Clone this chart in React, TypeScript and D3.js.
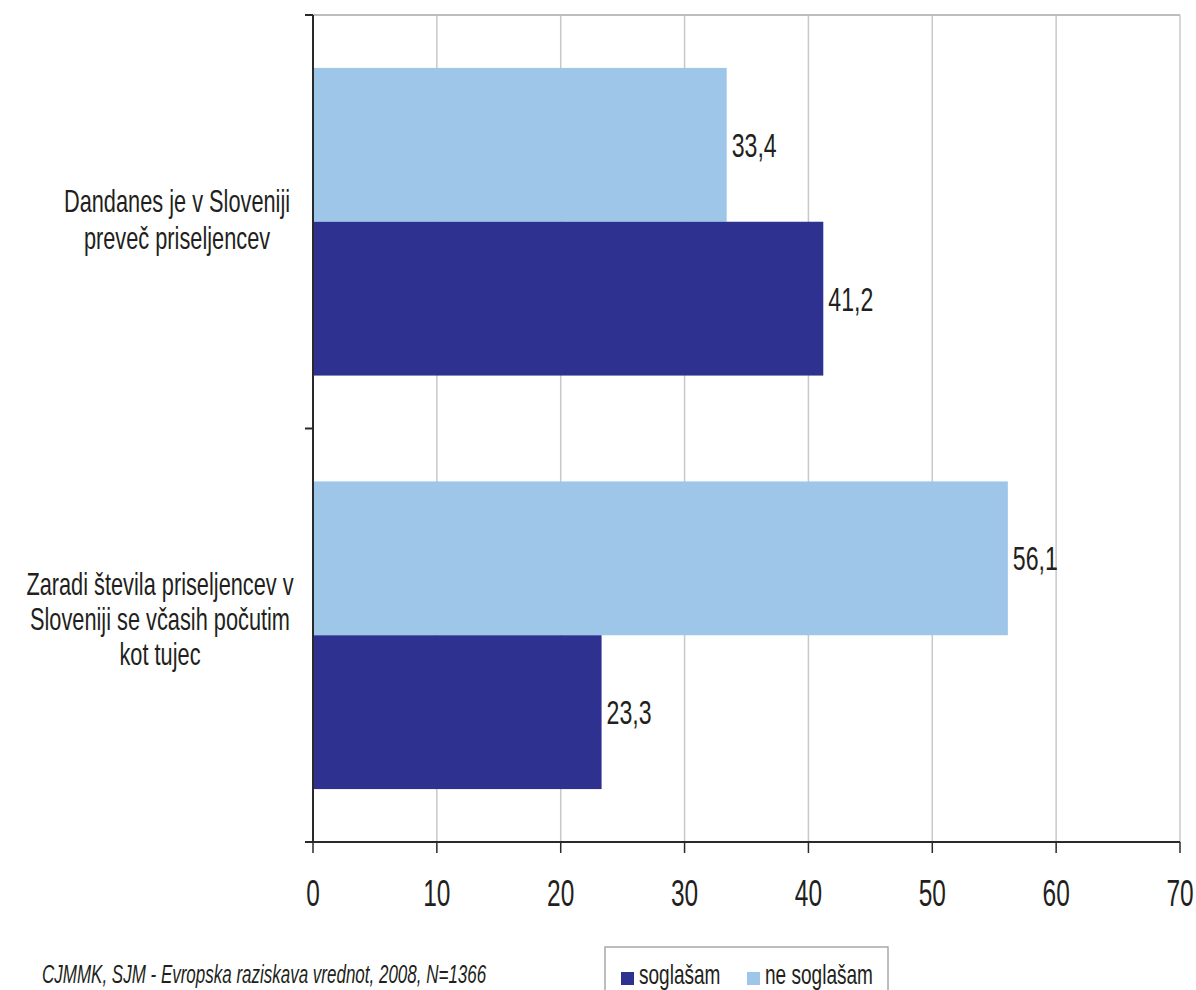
import React from "react";
import * as d3 from "d3";

const categories = [
  "Dandanes je v Sloveniji\npreveč priseljencev",
  "Zaradi števila priseljencev v\nSloveniji se včasih počutim\nkot tujec",
];
const seriesNames = ["soglašam", "ne soglašam"];
const soglasam = [41.2, 23.3];
const neSoglasam = [33.4, 56.1];
const xTicks = [0, 10, 20, 30, 40, 50, 60, 70];
const sourceText = "CJMMK, SJM - Evropska raziskava vrednot, 2008, N=1366";

const COLORS: Record<string, string> = {
  "soglašam": "#2E3190",
  "ne soglašam": "#9DC6E9",
};

const FONT = "'Liberation Sans', Arial, sans-serif";
const SX = 0.68;

const W = 1196;
const H = 990;
const left = 313;
const right = 1180;
const top = 15;
const bottom = 842;

// layout: label center x, vertical shift and line spacing for each category label
const labelLayout = [
  { cx: 177, dy: 1, lh: 37 },
  { cx: 160, dy: -13, lh: 35 },
];

function T(props: {
  x: number;
  y: number;
  size: number;
  anchor?: string;
  italic?: boolean;
  children: React.ReactNode;
}) {
  const { x, y, size, anchor = "start", italic = false, children } = props;
  return (
    <text
      transform={`translate(${x},${y}) scale(${SX},1)`}
      textAnchor={anchor as any}
      fontFamily={FONT}
      fontSize={size}
      fontStyle={italic ? "italic" : "normal"}
      fill="#231F20"
    >
      {children}
    </text>
  );
}

export default function App() {
  const x = d3.scaleLinear().domain([0, 70]).range([left, right]);
  const yCat = d3
    .scaleBand<string>()
    .domain(categories)
    .range([top, bottom])
    .paddingInner(0)
    .paddingOuter(0);
  const bw = yCat.bandwidth();
  const ySeries = d3
    .scaleBand<string>()
    .domain(["ne soglašam", "soglašam"])
    .range([bw * 0.128, bw * 0.872])
    .padding(0);

  const rows = categories.map((c, i) => ({
    cat: c,
    values: [
      { s: "ne soglašam", v: neSoglasam[i] },
      { s: "soglašam", v: soglasam[i] },
    ],
  }));

  return (
    <svg
      width={W}
      height={H}
      style={{ position: "absolute", left: 0, top: 0, background: "#fff" }}
    >
      <rect x={0} y={0} width={W} height={H} fill="#fff" />
      {/* gridlines */}
      {xTicks.slice(1).map((t) => (
        <line
          key={"g" + t}
          x1={x(t)}
          x2={x(t)}
          y1={top}
          y2={bottom}
          stroke="#C8C8C8"
          strokeWidth={1.5}
        />
      ))}
      <line x1={left} x2={right} y1={top} y2={top} stroke="#BDBDBD" strokeWidth={2} />

      {/* bars */}
      {rows.map((r) => (
        <g key={r.cat} transform={`translate(0,${yCat(r.cat)})`}>
          {r.values.map((d) => {
            const y0 = ySeries(d.s)!;
            const h = ySeries.bandwidth();
            return (
              <g key={d.s}>
                <rect
                  x={x(0)}
                  y={y0}
                  width={x(d.v) - x(0)}
                  height={h}
                  fill={COLORS[d.s]}
                />
                <T x={x(d.v) + 5} y={y0 + h / 2 + 12} size={34}>
                  {d3.format(".1f")(d.v).replace(".", ",")}
                </T>
              </g>
            );
          })}
        </g>
      ))}

      {/* axes */}
      <line x1={left} x2={left} y1={top} y2={bottom} stroke="#2A2A2A" strokeWidth={2} />
      <line x1={left - 8} x2={right} y1={bottom} y2={bottom} stroke="#2A2A2A" strokeWidth={2} />
      {[top, top + bw, bottom].map((yy, i) => (
        <line key={"lt" + i} x1={left - 8} x2={left} y1={yy} y2={yy} stroke="#2A2A2A" strokeWidth={2} />
      ))}
      {xTicks.map((t) => (
        <g key={"t" + t}>
          <line x1={x(t)} x2={x(t)} y1={bottom} y2={bottom + 11} stroke="#2A2A2A" strokeWidth={1.5} />
          <T x={x(t)} y={906} size={36} anchor="middle">
            {t}
          </T>
        </g>
      ))}

      {/* category labels */}
      {categories.map((c, i) => {
        const lines = c.split("\n");
        const L = labelLayout[i];
        const cy = yCat(c)! + bw / 2 + L.dy;
        return (
          <g key={"cl" + i}>
            {lines.map((ln, j) => (
              <T
                key={j}
                x={L.cx}
                y={cy + (j - (lines.length - 1) / 2) * L.lh + 8}
                size={32}
                anchor="middle"
              >
                {ln}
              </T>
            ))}
          </g>
        );
      })}

      {/* source */}
      <T x={42} y={983} size={25} italic>
        {sourceText}
      </T>

      {/* legend */}
      <rect x={605} y={947} width={283} height={60} fill="#fff" stroke="#A8A8A8" strokeWidth={1.5} />
      {seriesNames.map((s, i) => {
        const lx = i === 0 ? 621 : 747;
        return (
          <g key={s}>
            <rect x={lx} y={972} width={13} height={13} fill={COLORS[s]} />
            <T x={lx + 18} y={984} size={28}>
              {s}
            </T>
          </g>
        );
      })}
    </svg>
  );
}
